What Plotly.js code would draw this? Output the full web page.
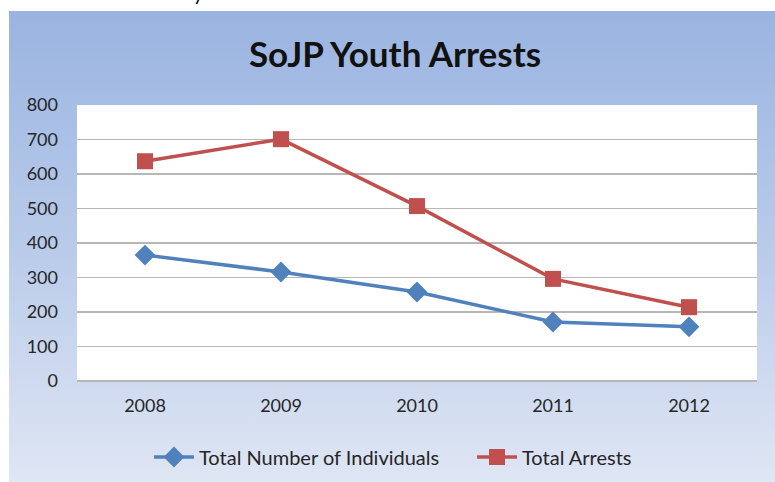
<!DOCTYPE html>
<html>
<head>
<meta charset="utf-8">
<script src="https://cdn.plot.ly/plotly-3.0.1.min.js"></script>
<style>
  html, body { margin: 0; padding: 0; background: #ffffff; }
  #wrap { position: relative; width: 775px; height: 482px; overflow: hidden; }
  #panel { position: absolute; left: 9px; top: 11px; width: 766px; height: 471px;
           background: linear-gradient(to bottom, #9ab4e1 0%, #b9cbea 50%, #dfe6f4 100%); }
  #cut { position: absolute; left: 193px; top: -17px; font-family: Lato, sans-serif;
         font-size: 20px; line-height: 20px; color: #000; }
  #chart { position: absolute; left: 0; top: 0; width: 775px; height: 482px; }
</style>
</head>
<body>
<div id="wrap">
  <div id="panel"></div>
  <div id="cut">y</div>
  <div id="chart"></div>
</div>
<script>
const years = ["2008", "2009", "2010", "2011", "2012"];
const individuals = [365, 316, 258, 171, 157];
const arrests = [637, 701, 507, 296, 214];
const seriesNames = ["Total Number of Individuals", "Total Arrests"];
const chartTitle = "SoJP Youth Arrests";
const yTicks = [0, 100, 200, 300, 400, 500, 600, 700, 800];

const font = "Lato, 'Open Sans', sans-serif";

const traces = [
  {
    x: years, y: individuals, name: seriesNames[0], type: "scatter", mode: "lines+markers",
    line: { color: "#4f81bd", width: 3.5 },
    marker: { symbol: "diamond", size: 16, color: "#4f81bd" }
  },
  {
    x: years, y: arrests, name: seriesNames[1], type: "scatter", mode: "lines+markers",
    line: { color: "#c0504d", width: 3.5 },
    marker: { symbol: "square", size: 16, color: "#c0504d" }
  }
];

const layout = {
  width: 775, height: 482,
  margin: { l: 77, r: 18, t: 105, b: 101 },
  paper_bgcolor: "rgba(0,0,0,0)",
  plot_bgcolor: "#ffffff",
  font: { family: font, size: 18, color: "#262626" },
  title: {
    text: "<b>" + chartTitle + "</b>",
    font: { family: font, size: 35, color: "#111111" },
    x: 395 / 775, xanchor: "center", xref: "container",
    y: 1 - 55 / 482, yanchor: "middle", yref: "container"
  },
  xaxis: {
    type: "category", range: [-0.5, 4.5],
    showgrid: false, showline: false, zeroline: false,
    ticks: "", ticklabelstandoff: 12,
    tickfont: { family: font, size: 18, color: "#262626" }
  },
  yaxis: {
    range: [0, 800], tickvals: yTicks,
    showgrid: true, gridcolor: "#b7b7b7", gridwidth: 1.5,
    zeroline: true, zerolinecolor: "#b7b7b7", zerolinewidth: 1.5,
    showline: false, ticks: "", ticklabelstandoff: 18,
    tickfont: { family: font, size: 18, color: "#262626" }
  },
  showlegend: true,
  legend: {
    orientation: "h", xref: "container", yref: "container",
    x: 149 / 775, xanchor: "left", y: 1 - 457 / 482, yanchor: "middle",
    bgcolor: "rgba(0,0,0,0)", font: { family: font, size: 20, color: "#262626" },
    itemwidth: 40, entrywidth: 268, entrywidthmode: "pixels"
  }
};

Plotly.newPlot("chart", traces, layout, { displayModeBar: false, staticPlot: true });
</script>
</body>
</html>
